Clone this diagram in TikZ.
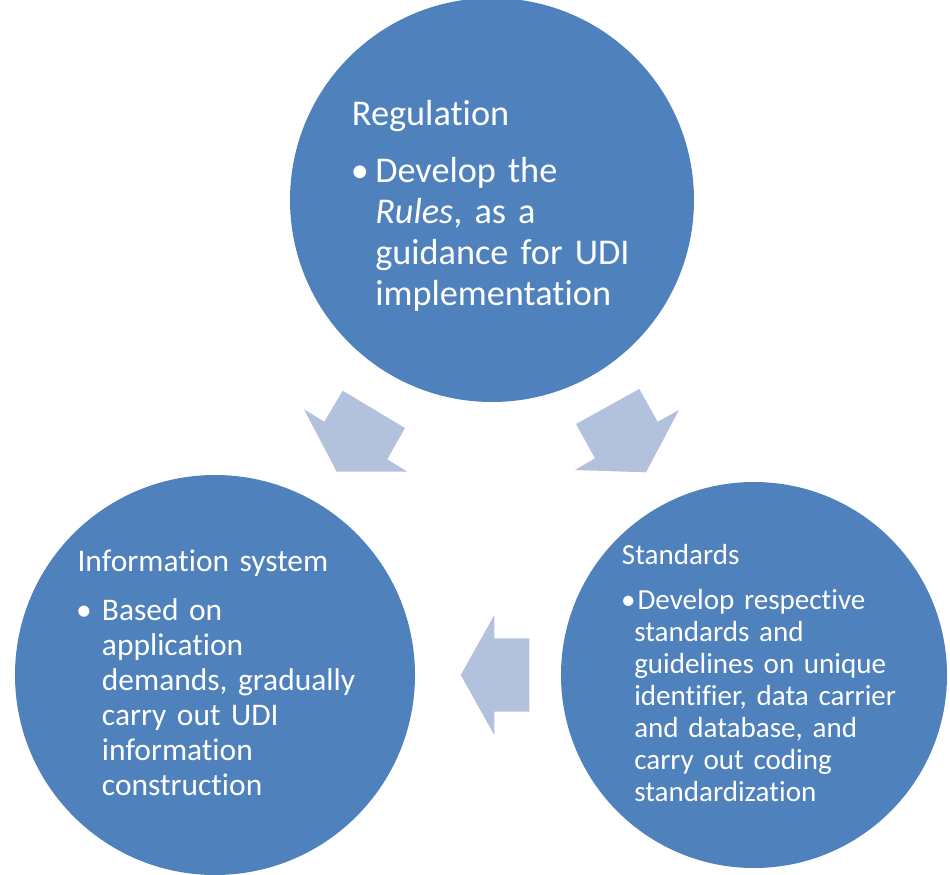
\documentclass[tikz,border=0pt]{standalone}
\usepackage{fontspec}
\setmainfont{Carlito}[Ligatures=NoCommon]
\definecolor{udiblue}{RGB}{79,129,189}
\definecolor{udiarrow}{RGB}{179,194,220}

\begin{document}
\begin{tikzpicture}[x=0.75pt, y=-0.75pt,
  ball/.style={circle, fill=udiblue, inner sep=0pt},
  txt/.style={anchor=base west, inner sep=0pt, text=white, text width=#1, align=left},
  dot/.style={anchor=base, inner sep=0pt, text=white}]
\useasboundingbox (0,0) rectangle (950,875);
\node (reg) [ball, minimum size=303pt] at (492,200) {};
\node (info) [ball, minimum size=300pt] at (215,675) {};
\node (std) [ball, minimum size=289.5pt] at (754,675) {};
\fill[udiarrow] (342.7,390.7) -- (405,428) -- (387.3,459.3) -- (407.3,471.7)
  -- (336.7,471.7) -- (304,409.3) -- (324.3,421.7) -- cycle;
\fill[udiarrow] (639.3,389) -- (576,424) -- (595,458.3) -- (575,470)
  -- (646,472.3) -- (679,410) -- (657.7,421.7) -- cycle;
\fill[udiarrow] (460.7,675) -- (494.3,615) -- (494.3,638.3) -- (529.3,638.3)
  -- (529.3,711.7) -- (494.3,711.7) -- (494.3,735) -- cycle;
\node (regtitle) [txt=250pt, font=\fontsize{27.2}{30.75}\selectfont] at (351.7,125) {Regulation};
\node (regdot) [dot, font=\fontsize{27.2}{30.75}\selectfont] at (360,182) {\textbullet};
\node (regbody) [txt=250pt, font=\fontsize{27.2}{30.75}\selectfont] at (375,182)
  {Develop the\\ \emph{Rules}, as a\\ guidance for UDI\\ implementation};
\node (infotitle) [txt=250pt, font=\fontsize{23.6}{26.25}\selectfont] at (77.3,571.7) {Information system};
\node (infodot) [dot, font=\fontsize{23.6}{26.25}\selectfont] at (84,620) {\textbullet};
\node (infobody) [txt=250pt, font=\fontsize{23.6}{26.25}\selectfont] at (101.7,620)
  {Based on\\ application\\ demands, gradually\\ carry out UDI\\ information\\ construction};
\node (stdtitle) [txt=250pt, font=\fontsize{21.8}{24.1}\selectfont] at (621.7,564.3) {Standards};
\node (stddot) [dot, font=\fontsize{21.8}{24.1}\selectfont] at (628.3,609) {\textbullet};
\node (stdbody) [txt=250pt, font=\fontsize{21.8}{24.1}\selectfont] at (634,609)
  {\hspace*{2.5pt}Develop respective\\ standards and\\ guidelines on unique\\ identifier, data carrier\\ and database, and\\ carry out coding\\ standardization};
\end{tikzpicture}
\end{document}
